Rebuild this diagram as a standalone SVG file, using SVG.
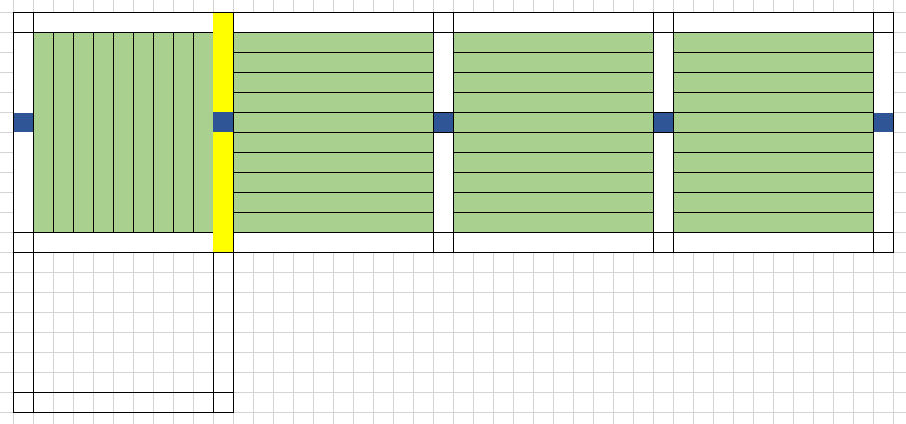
<svg xmlns="http://www.w3.org/2000/svg" width="906" height="424" viewBox="0 0 906 424">
<style>
.grid{stroke:#d4d4d4;stroke-width:1;fill:none}
.blk{stroke:#000;stroke-width:1;fill:none}
.green{fill:#a9d08e}
.white{fill:#fff}
.yellow{fill:#ffff00}
.blue{fill:#2f5597}
</style>
<rect width="906" height="424" fill="#fff"/>
<g id="grid">
<path class="grid" d="M13.5 0V424M33.5 0V424M53.5 0V424M73.5 0V424M93.5 0V424M113.5 0V424M133.5 0V424M153.5 0V424M173.5 0V424M193.5 0V424M213.5 0V424M233.5 0V424M253.5 0V424M273.5 0V424M293.5 0V424M313.5 0V424M333.5 0V424M353.5 0V424M373.5 0V424M393.5 0V424M413.5 0V424M433.5 0V424M453.5 0V424M473.5 0V424M493.5 0V424M513.5 0V424M533.5 0V424M553.5 0V424M573.5 0V424M593.5 0V424M613.5 0V424M633.5 0V424M653.5 0V424M673.5 0V424M693.5 0V424M713.5 0V424M733.5 0V424M753.5 0V424M773.5 0V424M793.5 0V424M813.5 0V424M833.5 0V424M853.5 0V424M873.5 0V424M893.5 0V424"/>
<path class="grid" d="M0 12.5H906M0 32.5H906M0 52.5H906M0 72.5H906M0 92.5H906M0 112.5H906M0 132.5H906M0 152.5H906M0 172.5H906M0 192.5H906M0 212.5H906M0 232.5H906M0 252.5H906M0 272.5H906M0 292.5H906M0 312.5H906M0 332.5H906M0 352.5H906M0 372.5H906M0 392.5H906M0 412.5H906"/>
</g>
<g id="frame-fill">
<rect class="white" x="13" y="12" width="881" height="241"/>
</g>
<g id="section-a">
<rect class="green" x="33" y="32" width="180" height="201"/>
<path class="blk" d="M53.5 32V233M73.5 32V233M93.5 32V233M113.5 32V233M133.5 32V233M153.5 32V233M173.5 32V233M193.5 32V233"/>
</g>
<g id="section-b">
<rect class="green" x="233" y="32" width="200" height="201"/>
<path class="blk" d="M233 52.5H434M233 72.5H434M233 92.5H434M233 112.5H434M233 132.5H434M233 152.5H434M233 172.5H434M233 192.5H434M233 212.5H434"/>
</g>
<g id="section-c">
<rect class="green" x="453" y="32" width="200" height="201"/>
<path class="blk" d="M453 52.5H654M453 72.5H654M453 92.5H654M453 112.5H654M453 132.5H654M453 152.5H654M453 172.5H654M453 192.5H654M453 212.5H654"/>
</g>
<g id="section-d">
<rect class="green" x="673" y="32" width="200" height="201"/>
<path class="blk" d="M673 52.5H874M673 72.5H874M673 92.5H874M673 112.5H874M673 132.5H874M673 152.5H874M673 172.5H874M673 192.5H874M673 212.5H874"/>
</g>
<g id="borders">
<path class="blk" d="M13 12.5H894M13 32.5H894M13 232.5H894M13 252.5H894M13 392.5H234M13 412.5H234"/>
<path class="blk" d="M13.5 12V413M33.5 12V413M213.5 12V413M233.5 12V413M433.5 12V253M453.5 12V253M653.5 12V253M673.5 12V253M873.5 12V253M893.5 12V253"/>
</g>
<g id="yellow-column">
<rect class="yellow" x="213" y="13" width="20" height="239"/>
</g>
<g id="blue-1"><rect class="blue" x="14" y="113" width="19" height="19"/></g>
<g id="blue-2"><rect class="blue" x="213" y="112" width="20" height="20"/></g>
<g id="blue-3"><rect class="blue" x="434" y="113" width="19" height="19"/></g>
<g id="blue-4"><rect class="blue" x="654" y="113" width="19" height="19"/></g>
<g id="blue-5"><rect class="blue" x="874" y="113" width="19" height="19"/></g>
<g id="blue-borders">
<path class="blk" d="M433 112.5H454M433 132.5H454M653 112.5H674M653 132.5H674"/>
</g>
</svg>
